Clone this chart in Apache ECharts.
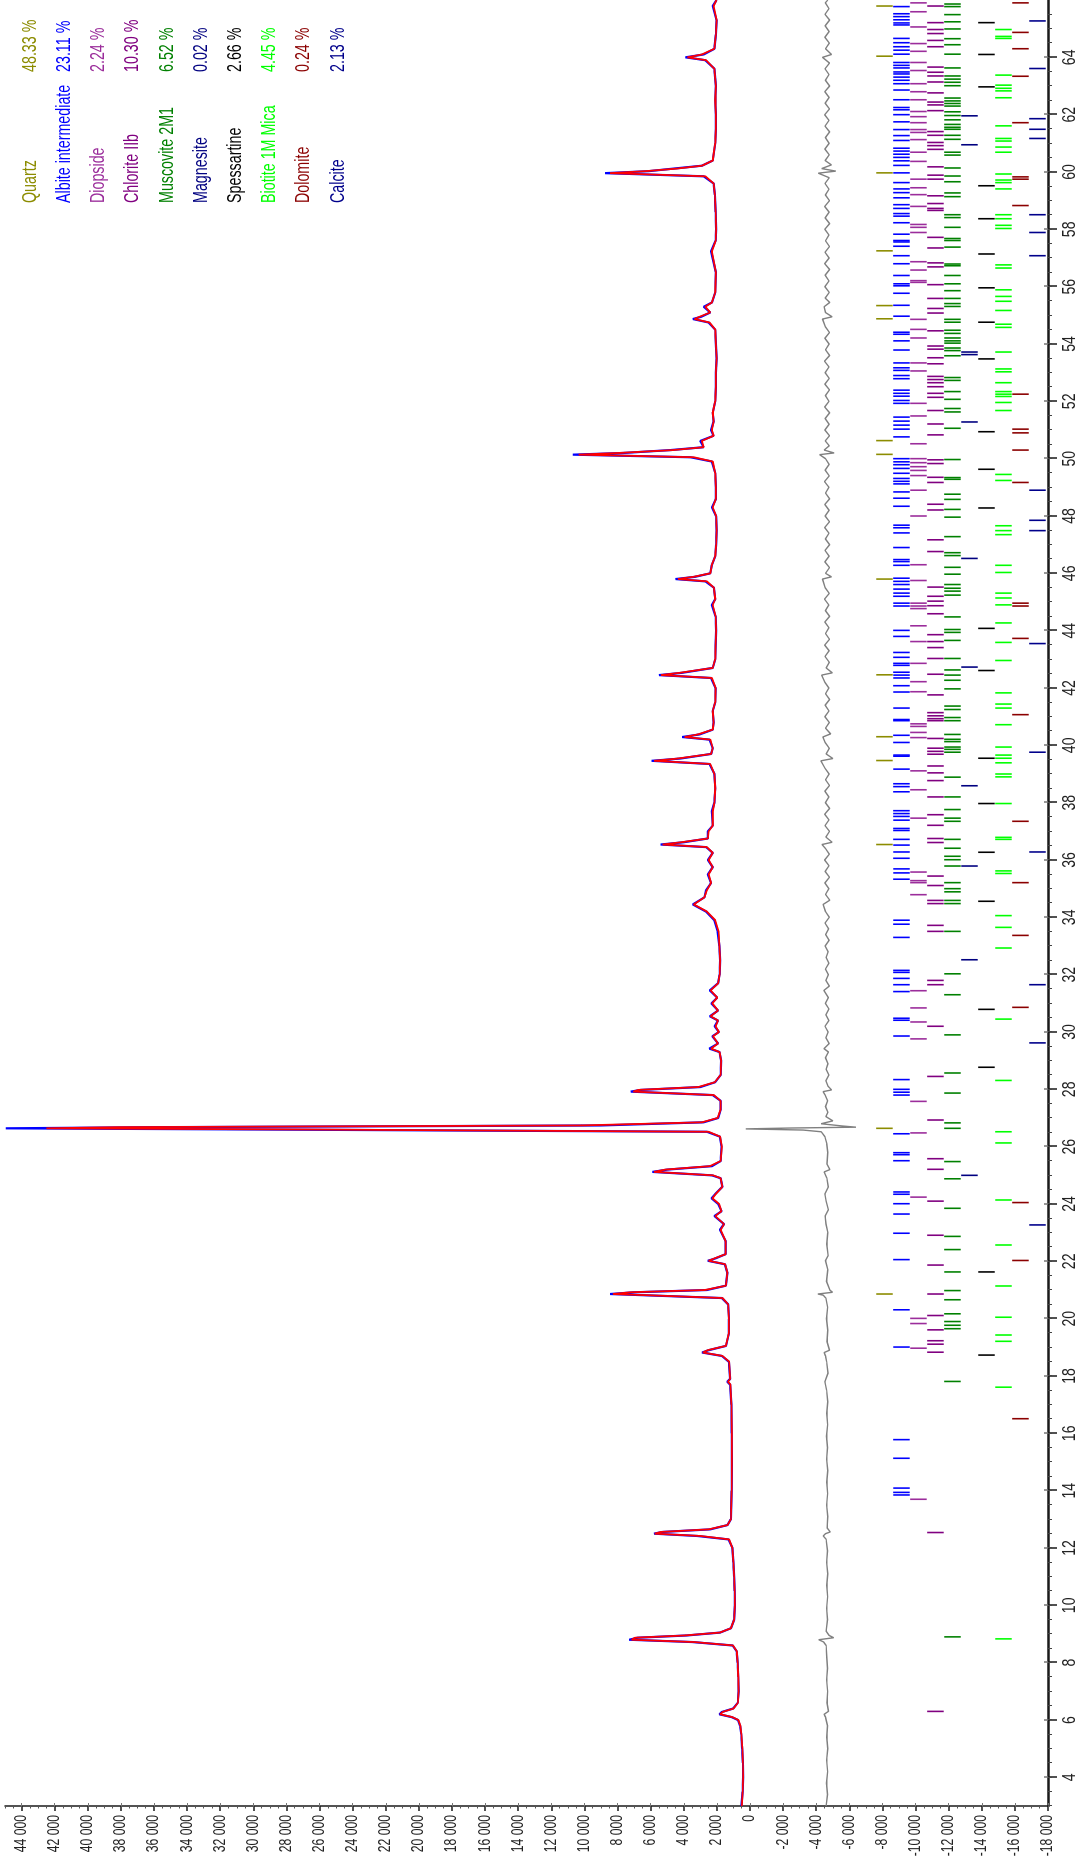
<!DOCTYPE html>
<html>
<head>
<meta charset="utf-8">
<title>XRD Rietveld refinement</title>
<script src="https://cdn.jsdelivr.net/npm/echarts@6/dist/echarts.min.js"></script>
<style>
  html, body { margin: 0; padding: 0; background: #fff; overflow: hidden; }
  body { width: 1084px; height: 1866px; position: relative; }
  /* the plot is laid out landscape and turned a quarter turn counter-clockwise */
  #wrap {
    position: absolute; left: 0; top: 0;
    width: 1866px; height: 1084px;
    transform-origin: 0 0;
    transform: translate(0, 1866px) rotate(-90deg);
  }
  #chart { width: 1866px; height: 1084px; }
</style>
</head>
<body>
<div id="wrap"><div id="chart"></div></div>
<script>
// ---- diffraction pattern: 2-theta (deg) / observed / calculated counts ----
const twoTheta = [3.00,3.50,4.00,4.50,5.00,5.50,5.80,6.00,6.10,6.20,6.28,6.40,6.60,7.00,7.50,8.00,8.40,8.60,8.72,8.80,8.87,8.95,9.05,9.20,9.50,10.00,10.50,11.00,11.50,12.00,12.30,12.42,12.50,12.56,12.65,12.80,13.00,14.00,15.00,16.00,17.00,17.70,17.80,17.90,18.50,18.70,18.82,18.90,19.05,19.50,20.00,20.50,20.72,20.82,20.86,20.92,21.00,21.15,21.60,21.90,22.02,22.10,22.25,22.70,23.10,23.30,23.58,23.75,24.00,24.20,24.35,24.60,24.90,25.00,25.12,25.20,25.32,25.50,26.00,26.35,26.52,26.60,26.64,26.68,26.74,26.85,27.00,27.30,27.60,27.80,27.92,27.98,28.08,28.25,28.50,29.00,29.30,29.42,29.60,29.85,30.00,30.20,30.40,30.55,30.75,31.00,31.20,31.45,31.70,32.00,32.50,33.00,33.50,33.90,34.20,34.45,34.70,34.95,35.20,35.50,35.75,36.00,36.25,36.45,36.54,36.62,36.75,37.00,37.20,37.70,38.00,38.50,39.00,39.35,39.46,39.54,39.70,39.90,40.20,40.29,40.38,40.55,40.80,41.20,41.50,42.00,42.35,42.45,42.53,42.70,43.00,43.50,44.00,44.50,44.90,45.10,45.50,45.72,45.80,45.88,46.00,46.30,46.60,47.00,47.50,48.00,48.30,48.60,49.00,49.50,49.90,50.05,50.14,50.20,50.30,50.40,50.62,50.80,51.00,51.30,51.60,52.00,52.50,53.00,53.50,54.00,54.50,54.75,54.87,54.95,55.10,55.30,55.45,55.80,56.50,57.23,57.60,58.00,58.60,59.20,59.60,59.85,59.96,60.03,60.12,60.22,60.40,61.00,61.50,62.00,62.50,63.00,63.60,63.90,64.00,64.10,64.30,64.80,65.30,65.79,66.00];
const observed = [520,450,420,430,470,530,600,720,1100,1850,1700,1020,740,690,710,750,810,1050,3500,7300,6800,3800,1800,1150,960,910,930,960,1000,1060,1300,3200,5800,5300,2400,1360,1160,1110,1100,1110,1130,1200,1380,1200,1280,1700,2900,2500,1450,1270,1270,1320,1700,6500,8450,7000,2600,1460,1370,1520,2550,2100,1470,1470,1820,1570,2150,1720,1920,2320,2100,1670,1770,2300,5900,5000,2300,1770,1720,1820,2600,30000,44950,36000,9000,2800,1920,1770,1780,2250,7200,6600,3000,2100,1780,1740,1840,2450,1930,2280,1880,2130,1930,2430,1930,2330,1980,2430,1930,1840,1800,1850,1950,2150,2650,3450,2750,2650,2350,2550,2250,2550,2250,2650,5400,4000,2550,2550,2250,2300,2150,2100,2150,2450,5950,4200,2350,2250,2450,4100,3050,2250,2200,2250,2100,2080,2350,5500,4100,2250,2100,2080,2050,2080,2300,2100,2180,2700,4500,3300,2400,2300,2100,2050,2020,2050,2300,2060,2060,2100,2300,3600,10700,7600,4800,2800,3000,2200,2350,2200,2250,2100,2060,2060,2020,2060,2100,2500,3450,2950,2400,2800,2300,2100,2060,2350,2080,2050,2080,2120,2200,2800,8750,6100,4600,2900,2250,2100,2060,2060,2100,2060,2150,2700,3900,2800,2150,2060,2020,2250,2020];
const calculated = [490,440,410,430,460,520,580,700,1060,1800,1660,1000,730,690,710,750,800,1020,3400,7150,6950,3900,1820,1160,960,910,930,960,1000,1060,1260,3000,5750,5380,2500,1360,1160,1110,1100,1100,1130,1180,1330,1200,1260,1660,2850,2560,1460,1270,1270,1320,1660,6300,8280,7250,2720,1460,1370,1500,2500,2160,1470,1470,1770,1570,2100,1720,1870,2270,2070,1670,1770,2220,5800,5120,2420,1770,1700,1800,2500,27000,42500,38200,10200,2900,1960,1770,1780,2180,7050,6750,3120,2120,1780,1740,1830,2350,1930,2230,1880,2080,1930,2380,1930,2280,1980,2380,1930,1840,1800,1850,1900,2100,2600,3400,2750,2600,2350,2500,2250,2500,2250,2600,5280,4150,2550,2500,2250,2250,2150,2100,2150,2400,5800,4350,2350,2250,2400,3950,3150,2250,2200,2250,2100,2080,2300,5380,4250,2250,2100,2080,2050,2080,2250,2100,2180,2600,4350,3400,2400,2300,2100,2050,2020,2050,2250,2060,2060,2100,2250,3400,10350,7900,4650,2800,2900,2200,2300,2200,2250,2100,2060,2060,2020,2060,2100,2450,3350,3050,2400,2700,2300,2100,2060,2300,2080,2050,2080,2120,2200,2700,8450,6300,4400,2900,2250,2100,2060,2060,2100,2060,2150,2650,3780,2900,2150,2060,2020,2200,2020];

// ---- difference curve (observed - calculated, drawn with its offset) ----
const difference = [[3.0,-4600],[3.4,-4680],[3.8,-4620],[4.2,-4690],[4.6,-4630],[5.0,-4700],[5.4,-4640],[5.8,-4680],[6.1,-4560],[6.2,-4480],[6.3,-4740],[6.6,-4650],[7.0,-4690],[7.4,-4630],[7.8,-4680],[8.2,-4640],[8.6,-4600],[8.72,-4450],[8.8,-4150],[8.87,-5050],[8.95,-4780],[9.1,-4600],[9.5,-4680],[9.9,-4630],[10.3,-4690],[10.7,-4640],[11.1,-4700],[11.5,-4630],[11.9,-4680],[12.3,-4600],[12.42,-4420],[12.5,-4560],[12.56,-4850],[12.7,-4660],[13.1,-4700],[13.5,-4630],[13.9,-4690],[14.3,-4640],[14.7,-4700],[15.1,-4630],[15.5,-4680],[15.9,-4620],[16.3,-4690],[16.7,-4640],[17.1,-4700],[17.5,-4630],[17.8,-4520],[18.1,-4710],[18.5,-4630],[18.7,-4560],[18.82,-4480],[18.9,-4800],[19.2,-4650],[19.6,-4700],[20.0,-4620],[20.4,-4690],[20.72,-4580],[20.82,-4420],[20.86,-4100],[20.92,-4980],[21.0,-4820],[21.3,-4620],[21.7,-4700],[22.02,-4560],[22.2,-4720],[22.6,-4640],[23.0,-4700],[23.3,-4590],[23.58,-4540],[23.8,-4730],[24.1,-4600],[24.35,-4520],[24.6,-4730],[24.9,-4640],[25.12,-4480],[25.2,-4820],[25.4,-4650],[25.8,-4700],[26.1,-4640],[26.35,-4520],[26.52,-4300],[26.58,-3200],[26.62,250],[26.65,-2400],[26.68,-6400],[26.72,-5600],[26.8,-4300],[26.9,-5000],[27.05,-4580],
[27.2,-4700],[27.4,-4560],[27.6,-4690],[27.8,-4540],[27.92,-4420],[27.98,-4930],[28.1,-4720],[28.3,-4580],[28.5,-4760],[28.7,-4600],[28.9,-4710],[29.1,-4560],[29.3,-4740],[29.42,-4470],[29.6,-4780],[29.8,-4580],[30.0,-4720],[30.2,-4530],[30.4,-4760],[30.6,-4590],[30.8,-4770],[31.0,-4550],[31.2,-4730],[31.45,-4460],[31.6,-4790],[31.8,-4580],[32.0,-4740],[32.2,-4560],[32.4,-4770],[32.6,-4600],[32.8,-4720],[33.0,-4540],[33.2,-4780],[33.4,-4570],[33.6,-4750],[33.8,-4530],[34.0,-4790],[34.2,-4560],[34.45,-4420],[34.6,-4820],[34.8,-4560],[35.0,-4760],[35.2,-4520],[35.4,-4800],[35.6,-4540],[35.8,-4770],[36.0,-4510],[36.2,-4790],[36.4,-4560],[36.54,-4350],[36.62,-4960],[36.8,-4580],[37.0,-4800],[37.2,-4530],[37.4,-4770],[37.6,-4510],[37.8,-4810],[38.0,-4550],[38.2,-4760],[38.4,-4520],[38.6,-4800],[38.8,-4560],[39.0,-4780],[39.2,-4530],[39.46,-4280],[39.54,-5000],[39.7,-4600],[39.9,-4790],[40.1,-4540],[40.29,-4400],[40.4,-4870],[40.6,-4560],[40.8,-4790],[41.0,-4520],[41.2,-4770],[41.4,-4540],[41.6,-4810],[41.8,-4560],[42.0,-4760],[42.2,-4520],[42.45,-4330],[42.53,-4970],[42.7,-4600],[42.9,-4790],[43.1,-4530],[43.3,-4780],[43.5,-4510],[43.7,-4800],[43.9,-4560],[44.1,-4770],[44.3,-4520],[44.5,-4810],[44.7,-4550],[44.9,-4760],[45.1,-4500],[45.3,-4790],[45.5,-4540],[45.8,-4380],[45.88,-4920],[46.0,-4560],[46.2,-4800],[46.4,-4520],[46.6,-4780],[46.8,-4530],[47.0,-4810],[47.2,-4550],[47.4,-4770],[47.6,-4510],[47.8,-4800],[48.0,-4540],[48.2,-4780],[48.4,-4520],[48.6,-4810],[48.8,-4560],[49.0,-4770],[49.2,-4500],[49.4,-4790],[49.6,-4540],[49.8,-4780],[50.0,-4560],[50.14,-4200],[50.2,-5080],[50.3,-4480],[50.45,-4790],[50.62,-4550],[50.8,-4800],[51.0,-4520],[51.2,-4780],[51.4,-4540],[51.6,-4810],[51.8,-4510],[52.0,-4770],[52.2,-4550],[52.4,-4800],[52.6,-4520],[52.8,-4790],[53.0,-4540],[53.2,-4770],[53.4,-4500],[53.6,-4810],[53.8,-4560],[54.0,-4780],[54.2,-4520],[54.4,-4800],[54.6,-4550],[54.87,-4380],[54.95,-4960],[55.1,-4560],[55.3,-4480],[55.45,-4820],[55.6,-4540],[55.8,-4790],[56.0,-4520],[56.2,-4770],[56.4,-4540],[56.6,-4810],[56.8,-4510],[57.0,-4780],[57.2,-4530],[57.4,-4800],[57.6,-4560],[57.8,-4770],[58.0,-4520],[58.2,-4810],[58.4,-4540],[58.6,-4780],[58.8,-4510],[59.0,-4800],[59.2,-4550],[59.4,-4770],[59.6,-4530],[59.8,-4790],[59.96,-4120],[60.03,-5180],[60.12,-4330],[60.25,-4920],[60.4,-4540],[60.6,-4790],[60.8,-4520],[61.0,-4780],[61.2,-4550],[61.4,-4810],[61.6,-4530],[61.8,-4770],[62.0,-4510],[62.2,-4800],[62.4,-4540],[62.6,-4780],[62.8,-4520],[63.0,-4810],[63.2,-4550],[63.4,-4770],[63.6,-4530],[63.8,-4800],[64.0,-4380],[64.1,-4920],[64.3,-4560],[64.5,-4790],[64.7,-4520],[64.9,-4780],[65.1,-4540],[65.3,-4810],[65.5,-4530],[65.7,-4770],[65.9,-4550],[66.0,-4700]];

// ---- phases: name, weight fraction, reflection positions (2-theta) ----
const phaseNames = ['Quartz','Albite intermediate','Diopside','Chlorite IIb','Muscovite 2M1','Magnesite','Spessartine','Biotite 1M Mica','Dolomite','Calcite'];
const phasePercents = ['48.33 %','23.11 %','2.24 %','10.30 %','6.52 %','0.02 %','2.66 %','4.45 %','0.24 %','2.13 %'];

const quartzPeaks = [20.86,26.64,36.54,39.47,40.30,42.46,45.80,50.15,50.63,54.88,55.34,57.25,59.97,64.04,65.79];
const albitePeaks = [13.85,13.94,14.09,15.13,15.78,19.01,20.31,22.06,22.98,23.65,24.01,24.34,24.42,25.51,25.72,25.79,26.45,27.80,27.90,28.00,28.34,29.86,30.41,30.48,31.41,31.65,31.87,32.08,32.15,33.30,33.76,33.90,35.33,35.55,35.69,36.06,36.28,36.52,36.72,37.03,37.10,37.39,37.52,37.62,37.72,38.38,38.56,38.66,39.17,39.62,39.66,40.10,40.35,40.86,40.90,41.30,41.86,42.08,42.35,42.45,42.55,42.79,42.86,43.07,43.24,43.80,44.01,44.86,44.96,45.20,45.31,45.45,45.61,45.72,45.83,46.28,46.41,46.48,46.90,47.41,47.59,47.68,48.34,48.62,48.84,49.12,49.21,49.31,49.49,49.66,49.79,49.89,50.00,50.76,51.03,51.17,51.31,51.45,51.93,52.03,52.18,52.28,52.39,52.79,52.90,53.08,53.17,53.34,53.79,54.11,54.34,54.41,54.97,55.35,55.77,56.03,56.10,56.39,56.80,57.08,57.41,57.56,57.61,57.83,58.23,58.46,58.55,58.73,58.86,59.10,59.28,59.41,59.63,59.97,60.23,60.39,60.51,60.62,60.73,60.83,61.10,61.27,61.48,61.75,62.00,62.17,62.25,62.52,62.86,63.08,63.20,63.31,63.42,63.49,63.63,63.72,63.82,64.11,64.25,64.37,64.51,64.66,65.13,65.20,65.31,65.42,65.52,65.77];
const diopsidePeaks = [13.70,18.97,19.83,20.01,24.24,26.48,27.58,29.76,30.35,30.84,31.44,34.79,35.21,35.28,35.58,37.46,38.45,39.11,40.27,40.45,40.66,40.75,41.87,42.22,42.86,43.62,44.17,44.77,44.86,44.96,45.75,46.30,48.00,48.90,49.41,49.59,49.72,49.86,50.00,50.52,51.49,51.93,53.06,53.34,54.21,54.51,54.86,56.15,56.21,56.58,56.87,57.89,58.07,58.17,58.80,59.21,59.45,59.75,60.37,60.69,61.13,61.38,61.48,61.72,61.93,62.11,62.52,62.80,63.08,63.54,63.82,64.21,64.48,65.06,65.59,65.90];
const chloritePeaks = [6.30,12.54,18.83,19.11,19.23,19.61,20.11,20.86,21.87,22.91,24.10,25.21,25.58,26.93,28.45,30.20,31.65,31.80,33.51,33.72,34.48,34.59,35.11,35.44,36.61,36.75,37.21,37.58,38.20,38.77,39.04,39.28,39.69,39.79,39.90,40.24,40.86,40.93,41.03,41.14,41.76,42.48,43.03,43.41,43.62,43.86,44.59,44.87,45.03,45.20,45.52,46.76,47.17,48.21,48.41,49.17,49.35,49.83,49.96,50.83,51.21,51.68,52.14,52.28,52.51,52.65,52.76,52.87,53.31,53.52,53.82,53.93,54.46,55.08,55.24,55.59,56.07,56.69,56.83,57.35,57.72,58.66,58.73,58.90,59.17,59.75,59.89,60.18,60.79,60.92,61.03,61.28,61.41,62.14,62.34,62.44,62.76,63.14,63.35,63.48,63.66,64.37,64.59,64.83,64.97,65.21,65.79];
const muscovitePeaks = [8.90,17.81,19.65,19.77,19.90,20.17,20.66,20.98,21.63,22.41,22.87,23.85,24.88,25.48,26.64,26.83,27.87,28.57,29.90,31.30,32.03,33.51,34.48,34.59,34.89,35.00,35.21,35.79,36.01,36.13,36.41,36.72,37.35,37.46,37.76,38.20,38.89,39.76,39.86,39.94,40.13,40.21,40.38,40.86,40.97,41.25,41.37,41.97,42.27,42.45,42.63,43.03,43.66,43.94,44.04,44.48,45.24,45.38,45.48,45.61,45.97,46.21,46.62,46.72,47.28,47.96,48.23,48.58,48.76,49.28,49.34,49.97,51.06,51.63,51.75,52.07,52.34,52.73,52.83,53.59,53.77,53.86,54.03,54.11,54.21,54.37,54.48,54.76,54.86,55.31,55.41,55.59,55.86,56.10,56.39,56.73,56.79,57.38,57.61,57.68,58.07,58.41,58.51,59.14,59.27,59.66,59.86,60.14,60.59,60.69,61.14,61.28,61.49,61.56,61.66,61.82,61.97,62.10,62.30,62.39,62.48,62.58,63.01,63.13,63.24,63.35,63.63,64.11,64.44,64.65,64.99,65.24,65.49,65.77,65.86];
const magnesitePeaks = [25.00,32.52,35.79,38.59,42.73,46.52,51.28,53.63,53.72,60.95,61.96];
const spessartinePeaks = [18.73,21.63,28.77,30.79,34.56,36.27,37.97,39.55,42.61,44.08,48.28,49.63,50.94,53.48,54.76,55.96,57.14,58.37,59.52,62.97,64.10,65.21];
const biotitePeaks = [8.83,17.61,19.21,19.43,20.05,21.14,22.57,24.14,26.13,26.52,28.31,30.45,32.93,33.65,34.06,35.53,35.62,36.72,36.79,37.97,38.90,39.00,39.39,39.55,39.66,39.94,40.72,41.30,41.44,41.83,42.96,43.59,44.27,44.90,45.14,45.31,46.03,46.28,47.35,47.49,47.66,49.24,49.45,51.68,51.96,52.17,52.25,52.34,52.65,53.03,53.13,53.72,54.58,54.69,55.17,55.49,55.66,55.89,56.65,56.76,58.03,58.14,58.37,58.51,59.41,59.63,59.72,59.93,60.69,60.87,61.08,61.17,61.61,62.59,62.83,62.92,63.03,63.38,64.66,64.73,64.97];
const dolomitePeaks = [16.51,22.03,24.05,30.86,33.37,35.21,37.35,41.07,43.73,44.86,44.96,49.17,50.30,50.90,51.03,52.25,58.83,59.75,59.83,61.72,63.34,64.30,64.87,65.90];
const calcitePeaks = [23.27,29.62,31.65,36.28,39.76,43.55,47.49,47.85,48.90,57.08,57.89,58.51,61.17,61.49,61.86,63.61,65.27];

const phasePeaks = [quartzPeaks, albitePeaks, diopsidePeaks, chloritePeaks, muscovitePeaks,
                    magnesitePeaks, spessartinePeaks, biotitePeaks, dolomitePeaks, calcitePeaks];

// reflection-marker rows sit below the difference curve, one band per phase (counts)
const markerRowTop = [-7620,-8647,-9674,-10701,-11728,-12755,-13782,-14809,-15836,-16863];
const markerRowDepth = 1000;

// ---- axis ticks ----
const thetaTicks = [4,6,8,10,12,14,16,18,20,22,24,26,28,30,32,34,36,38,40,42,44,46,48,50,52,54,56,58,60,62,64];
const countTicks = [-18000,-16000,-14000,-12000,-10000,-8000,-6000,-4000,-2000,0,2000,4000,6000,8000,10000,12000,14000,16000,18000,20000,22000,24000,26000,28000,30000,32000,34000,36000,38000,40000,42000,44000];

// ---- styling ----
// a regular sans face squeezed horizontally stands in for a narrow face
const FONT = "'Liberation Sans', Arial, sans-serif";
const phaseColors = ['#8C8C00','#0000FF','#9B2D9B','#800080','#008000','#000080','#000000','#00FF00','#8B0000','#00008B'];
const AXIS = '#1a1a1a';

const minorTheta = [];
for (let t = 3; t <= 66.001; t += 0.5) minorTheta.push(+t.toFixed(1));
const minorCounts = [];
for (let c = -18000; c <= 45000; c += 500) minorCounts.push(c);

function spaced(v) {
  const s = Math.abs(v).toString().replace(/\B(?=(\d{3})+(?!\d))/g, ' ');
  return (v < 0 ? '-' : '') + s;
}

function markerSeries(i) {
  const top = markerRowTop[i];
  return {
    type: 'custom',
    name: phaseNames[i],
    silent: true,
    data: phasePeaks[i].map(p => [p, top]),
    encode: { x: 0, y: 1 },
    renderItem: function (params, api) {
      const a = api.coord([api.value(0), top]);
      const b = api.coord([api.value(0), top - markerRowDepth]);
      return {
        type: 'line',
        shape: { x1: a[0], y1: a[1], x2: b[0], y2: b[1] },
        style: { stroke: phaseColors[i], lineWidth: 1.6 }
      };
    },
    z: 3
  };
}

const thetaExtent = { min: 3, max: 66 };
const countExtent = { min: -18000, max: 45000 };

const xAxes = [
  Object.assign({
    type: 'value', position: 'bottom',
    axisLine: { show: true, onZero: false, lineStyle: { color: AXIS, width: 2.5 } },
    axisTick: { show: true, customValues: thetaTicks, length: 9, lineStyle: { color: AXIS, width: 1.5 } },
    axisLabel: { show: false },
    splitLine: { show: false }
  }, thetaExtent),
  Object.assign({
    type: 'value', position: 'bottom',
    axisLine: { show: false, onZero: false },
    axisTick: { show: true, customValues: minorTheta, length: 4, lineStyle: { color: '#444', width: 1 } },
    axisLabel: { show: false },
    splitLine: { show: false }
  }, thetaExtent),
  Object.assign({
    type: 'value', position: 'bottom',
    axisLine: { show: false, onZero: false },
    axisTick: { show: true, inside: true, customValues: thetaTicks, length: 4, lineStyle: { color: '#777', width: 1.5 } },
    axisLabel: { show: false },
    splitLine: { show: false }
  }, thetaExtent)
];

const yAxes = [
  Object.assign({
    type: 'value', position: 'left',
    axisLine: { show: true, onZero: false, lineStyle: { color: AXIS, width: 1.5 } },
    axisTick: { show: true, customValues: countTicks, length: 5, lineStyle: { color: AXIS, width: 1.5 } },
    axisLabel: { show: false },
    splitLine: { show: false }
  }, countExtent),
  Object.assign({
    type: 'value', position: 'left',
    axisLine: { show: false, onZero: false },
    axisTick: { show: true, customValues: minorCounts, length: 2.5, lineStyle: { color: '#555', width: 1 } },
    axisLabel: { show: false },
    splitLine: { show: false }
  }, countExtent),
  Object.assign({
    type: 'value', position: 'left',
    axisLine: { show: false, onZero: false },
    axisTick: { show: true, inside: true, customValues: countTicks, length: 3, lineStyle: { color: '#777', width: 1 } },
    axisLabel: { show: false },
    splitLine: { show: false }
  }, countExtent)
];

const option = {
  animation: false,
  backgroundColor: '#ffffff',
  grid: { left: 60, right: 0, top: 5, bottom: 36, containLabel: false },
  xAxis: xAxes,
  yAxis: yAxes,
  series: [
    {
      type: 'line', name: 'Difference', data: difference,
      symbol: 'none', lineStyle: { color: '#808080', width: 1.4 }, z: 2
    },
    {
      type: 'line', name: 'Observed', data: twoTheta.map((t, i) => [t, observed[i]]),
      symbol: 'none', lineStyle: { color: '#0000FF', width: 2.2 }, z: 4
    },
    {
      type: 'line', name: 'Calculated', data: twoTheta.map((t, i) => [t, calculated[i]]),
      symbol: 'none', lineStyle: { color: '#FF0000', width: 1.8 }, z: 5
    }
  ].concat(phaseNames.map((n, i) => markerSeries(i)))
};

const chart = echarts.init(document.getElementById('chart'), null, { renderer: 'canvas', width: 1866, height: 1084 });
chart.setOption(option);

// tick labels and the phase legend are drawn as condensed text
function squeezedText(x, y, text, size, squeeze, align, vAlign, color) {
  return {
    type: 'text', x: x, y: y, scaleX: squeeze, silent: true, z: 10,
    style: { text: text, x: 0, y: 0, align: align, verticalAlign: vAlign, font: size + 'px ' + FONT, fill: color }
  };
}

const labels = [];
thetaTicks.forEach(t => {
  const p = chart.convertToPixel({ xAxisIndex: 0, yAxisIndex: 0 }, [t, countExtent.min]);
  labels.push(squeezedText(p[0], p[1] + 12, String(t), 19, 0.74, 'center', 'top', '#222'));
});
countTicks.forEach(c => {
  const p = chart.convertToPixel({ xAxisIndex: 0, yAxisIndex: 0 }, [thetaExtent.min, c]);
  labels.push(squeezedText(p[0] - 9, p[1], spaced(c), 16, 0.76, 'right', 'middle', '#222'));
});
phaseNames.forEach((name, i) => {
  const y = 30 + 34.2 * i;
  labels.push(squeezedText(1663, y, name, 21, 0.68, 'left', 'middle', phaseColors[i]));
  labels.push(squeezedText(1794, y, phasePercents[i], 21, 0.68, 'left', 'middle', phaseColors[i]));
});
chart.setOption({ graphic: labels });
</script>
</body>
</html>
